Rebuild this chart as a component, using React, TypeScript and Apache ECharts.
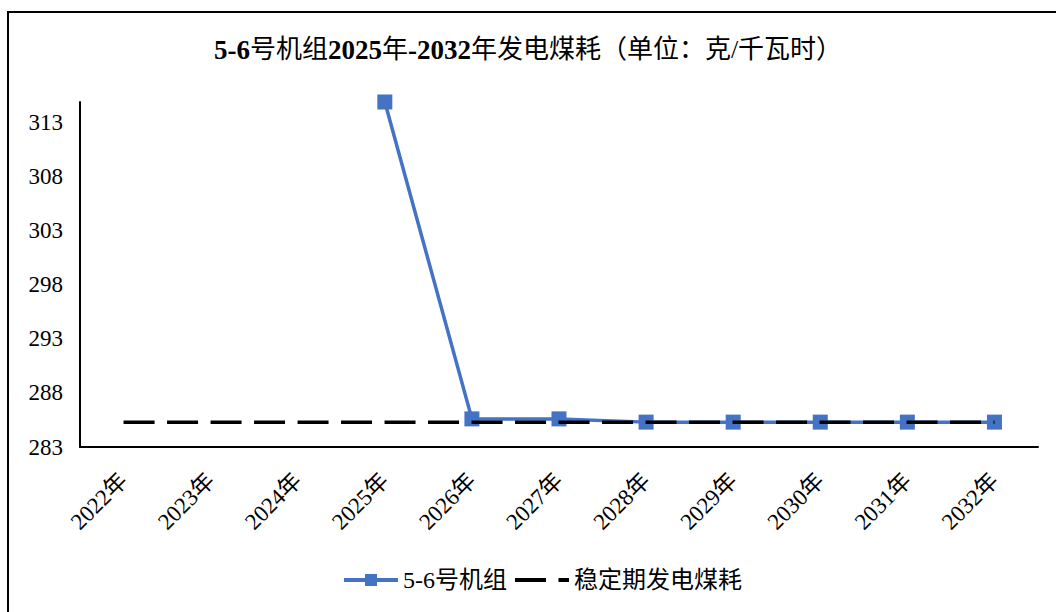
import React, { useEffect, useRef } from "react";
import * as echarts from "echarts";

const categories = ["2022年", "2023年", "2024年", "2025年", "2026年", "2027年", "2028年", "2029年", "2030年", "2031年", "2032年"];
const unitValues: (number | null)[] = [null, null, null, 314.9, 285.6, 285.6, 285.3, 285.3, 285.3, 285.3, 285.3];
const stableValues = [285.3, 285.3, 285.3, 285.3, 285.3, 285.3, 285.3, 285.3, 285.3, 285.3, 285.3];
const yTicks = { min: 283, max: 314.9, interval: 5 };
const seriesNames = ["5-6号机组", "稳定期发电煤耗"];

const SERIF = "'Liberation Serif', 'Times New Roman', 'Noto Sans CJK SC', serif";

export default function App() {
  const ref = useRef<HTMLDivElement>(null);
  useEffect(() => {
    if (!ref.current) return;
    const chart = echarts.init(ref.current, undefined, { renderer: "svg" });
    chart.setOption({
      animation: false,
      backgroundColor: "#fff",
      graphic: [
        {
          type: "rect",
          shape: { x: 8, y: 12, width: 1100, height: 700 },
          style: { fill: "none", stroke: "#000", lineWidth: 2 },
          silent: true,
        },
      ],
      title: {
        left: "center",
        top: 31,
        text: "{b|5-6}{n|号机组}{b|2025}{n|年}{b|-2032}{n|年发电煤耗（单位：克/千瓦时）}",
        textStyle: {
          rich: {
            b: { fontFamily: SERIF, fontWeight: "bold", fontSize: 27, color: "#000" },
            n: { fontFamily: SERIF, fontWeight: "normal", fontSize: 26, color: "#000" },
          },
        },
      },
      legend: {
        top: 563,
        left: 337,
        itemWidth: 54,
        itemHeight: 15,
        itemGap: 6,
        textStyle: { fontFamily: SERIF, fontSize: 24, color: "#000" },
        data: [
          { name: seriesNames[0], lineStyle: { width: 4 } },
          { name: seriesNames[1], itemStyle: { opacity: 0 }, lineStyle: { width: 4 } },
        ],
      },
      grid: { left: 80, right: 18, top: 102, bottom: 165, containLabel: false },
      xAxis: {
        type: "category",
        data: categories,
        boundaryGap: true,
        axisLine: { lineStyle: { color: "#000", width: 2 } },
        axisTick: { show: false },
        axisLabel: { rotate: 45, margin: 30, fontFamily: SERIF, fontSize: 23, color: "#000", interval: 0 },
      },
      yAxis: {
        type: "value",
        min: yTicks.min,
        max: yTicks.max,
        interval: yTicks.interval,
        axisLine: { show: true, lineStyle: { color: "#000", width: 2 } },
        axisTick: { show: false },
        splitLine: { show: false },
        axisLabel: { showMaxLabel: false, margin: 17, fontFamily: SERIF, fontSize: 23, color: "#000" },
      },
      series: [
        {
          name: seriesNames[0],
          type: "line",
          data: unitValues,
          clip: false,
          z: 2,
          symbol: "rect",
          symbolSize: 15,
          color: "#4472C4",
          lineStyle: { color: "#4472C4", width: 3.5 },
          itemStyle: { color: "#4472C4" },
        },
        {
          name: seriesNames[1],
          type: "line",
          data: stableValues,
          clip: false,
          z: 3,
          symbol: "none",
          color: "#000",
          lineStyle: { color: "#000", width: 3.5, type: [31, 12.5] },
        },
      ],
    });
    return () => chart.dispose();
  }, []);
  return <div ref={ref} style={{ position: "absolute", left: 0, top: 0, width: 1056, height: 612 }} />;
}
